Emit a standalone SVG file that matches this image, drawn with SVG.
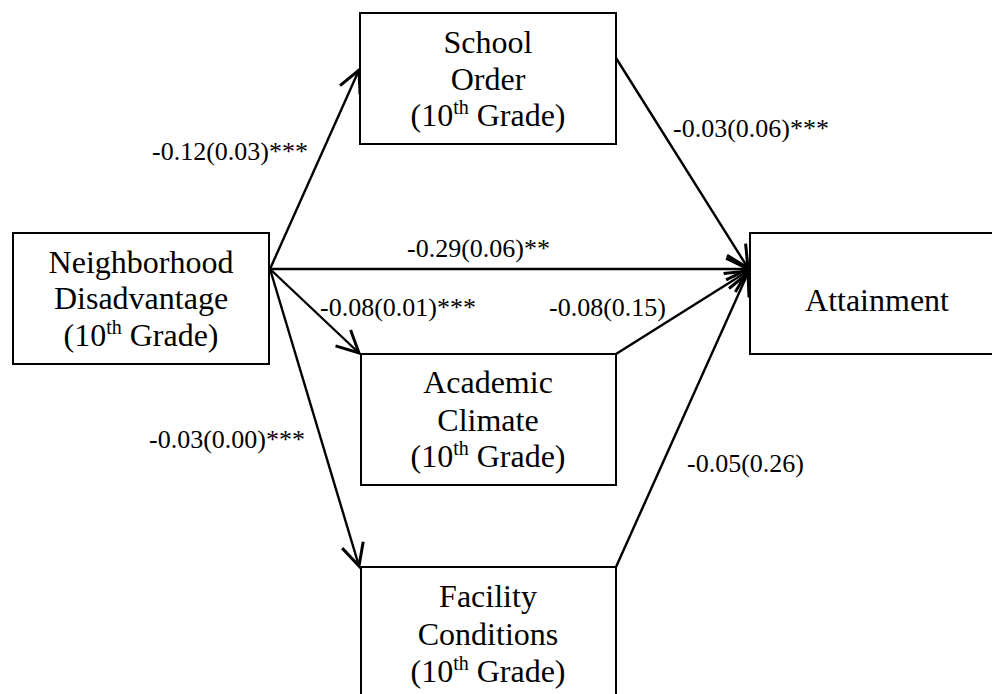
<svg xmlns="http://www.w3.org/2000/svg" width="992" height="694" viewBox="0 0 992 694">
<style>
  .box { fill: #ffffff; stroke: #000000; stroke-width: 2; }
  .nt { font-family: 'Liberation Serif', 'Times New Roman', serif; font-size: 32px; fill: #000; text-anchor: middle; }
  .sup { font-size: 20px; }
  .el { font-family: 'Liberation Serif', 'Times New Roman', serif; font-size: 26px; fill: #000; }
  .conn { stroke: #000; stroke-width: 2.4; fill: none; marker-end: url(#arr); }
</style>
<defs>
  <marker id="arr" markerUnits="userSpaceOnUse" markerWidth="30" markerHeight="30" viewBox="-22 -12 26 24" refX="0" refY="0" orient="auto">
    <path d="M -19 -9.5 L 0 0 L -19 9.5" fill="none" stroke="#000" stroke-width="2.6" stroke-linejoin="miter"/>
  </marker>
</defs>
<rect width="992" height="694" fill="#ffffff"/>
<g id="connectors">
  <line class="conn" x1="270" y1="269" x2="359" y2="70"/>
  <line class="conn" x1="270" y1="269" x2="748" y2="269"/>
  <line class="conn" x1="270" y1="269" x2="359" y2="353"/>
  <line class="conn" x1="270" y1="269" x2="359" y2="566"/>
  <line class="conn" x1="616" y1="58" x2="748" y2="268"/>
  <line class="conn" x1="616" y1="354" x2="748" y2="271"/>
  <line class="conn" x1="616" y1="567" x2="748" y2="273"/>
</g>
<g id="edge-labels">
  <text class="el" x="152" y="160">-0.12(0.03)***</text>
  <text class="el" x="407" y="257">-0.29(0.06)**</text>
  <text class="el" x="320" y="316">-0.08(0.01)***</text>
  <text class="el" x="549" y="316">-0.08(0.15)</text>
  <text class="el" x="673" y="137">-0.03(0.06)***</text>
  <text class="el" x="149" y="448">-0.03(0.00)***</text>
  <text class="el" x="687" y="472">-0.05(0.26)</text>
</g>
<g id="neighborhood">
  <rect class="box" x="13" y="233" width="256" height="131"/>
  <text class="nt" x="141" y="273">Neighborhood</text>
  <text class="nt" x="141" y="309">Disadvantage</text>
  <text class="nt" x="141" y="346">(10<tspan class="sup" dy="-12">th</tspan><tspan dy="12"> Grade)</tspan></text>
</g>
<g id="school-order">
  <rect class="box" x="360" y="13" width="256" height="131"/>
  <text class="nt" x="488" y="53">School</text>
  <text class="nt" x="488" y="90">Order</text>
  <text class="nt" x="488" y="126">(10<tspan class="sup" dy="-12">th</tspan><tspan dy="12"> Grade)</tspan></text>
</g>
<g id="academic-climate">
  <rect class="box" x="361" y="354" width="255" height="131"/>
  <text class="nt" x="488" y="393">Academic</text>
  <text class="nt" x="488" y="431">Climate</text>
  <text class="nt" x="488" y="467">(10<tspan class="sup" dy="-12">th</tspan><tspan dy="12"> Grade)</tspan></text>
</g>
<g id="facility-conditions">
  <rect class="box" x="361" y="567" width="255" height="140"/>
  <text class="nt" x="488" y="607">Facility</text>
  <text class="nt" x="488" y="645">Conditions</text>
  <text class="nt" x="488" y="682">(10<tspan class="sup" dy="-12">th</tspan><tspan dy="12"> Grade)</tspan></text>
</g>
<g id="attainment">
  <rect class="box" x="750" y="233" width="256" height="121"/>
  <text class="nt" x="877" y="311">Attainment</text>
</g>
</svg>
